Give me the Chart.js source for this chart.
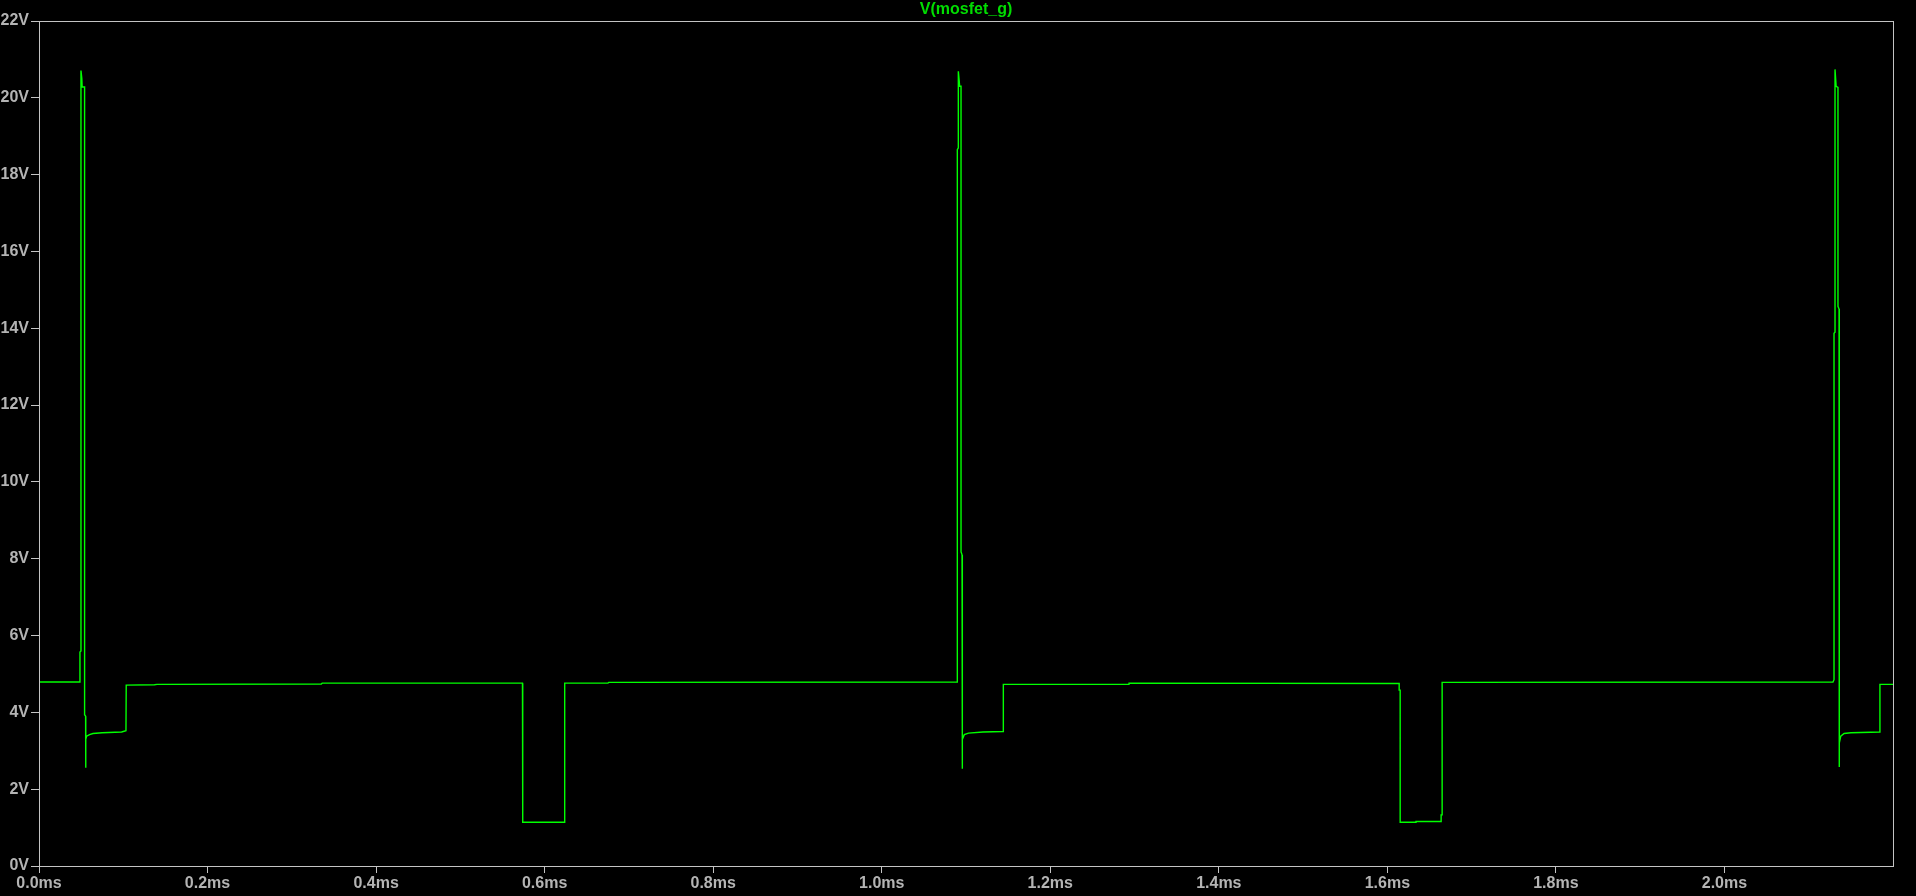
<!DOCTYPE html>
<html>
<head>
<meta charset="utf-8">
<script src="https://cdn.jsdelivr.net/npm/chart.js@4/dist/chart.umd.min.js"></script>
<style>
  html, body { margin: 0; padding: 0; background: #000; }
  #wrap { width: 1916px; height: 896px; }
</style>
</head>
<body>
<div id="wrap"><canvas id="chart"></canvas></div>
<script>
const traceName = 'V(mosfet_g)';

// time in ms, gate voltage in V
const timeMs = [
    0, 0.0486, 0.0486, 0.0498, 0.0498, 0.0508, 0.0512, 0.0541, 0.0541, 0.0553,
    0.0553, 0.0557, 0.0565, 0.060, 0.064, 0.075, 0.098, 0.1032, 0.1035, 0.137,
    0.14, 0.335, 0.336, 0.5737, 0.5740, 0.6235, 0.6238, 0.675, 0.676, 1.0897,
    1.0897, 1.0909, 1.0909, 1.0925, 1.0941, 1.0941, 1.0953, 1.0953, 1.096, 1.098,
    1.103, 1.12, 1.1440, 1.1443, 1.2934, 1.2935, 1.6140, 1.6140, 1.6152, 1.6152,
    1.634, 1.634, 1.6638, 1.6638, 1.665, 1.665, 2.1288, 2.130, 2.130, 2.1312,
    2.1312, 2.1325, 2.1347, 2.1347, 2.136, 2.136, 2.1365, 2.138, 2.142, 2.15,
    2.1845, 2.1845, 2.2
];
const gateV = [
    4.79, 4.79, 5.57, 5.60, 20.71, 20.50, 20.28, 20.28, 3.94, 3.90,
    2.56, 3.30, 3.38, 3.42, 3.45, 3.47, 3.49, 3.52, 4.71, 4.72,
    4.73, 4.74, 4.76, 4.76, 1.14, 1.14, 4.76, 4.76, 4.78, 4.79,
    18.65, 18.70, 20.69, 20.30, 20.30, 8.18, 8.10, 2.53, 3.30, 3.42,
    3.46, 3.49, 3.50, 4.73, 4.73, 4.76, 4.75, 4.58, 4.58, 1.14,
    1.14, 1.16, 1.16, 1.33, 1.33, 4.78, 4.79, 4.85, 13.87, 13.90,
    20.74, 20.30, 20.27, 14.57, 14.50, 2.58, 3.20, 3.38, 3.45, 3.47,
    3.49, 4.73, 4.73
];

const xTicks = [0, 0.2, 0.4, 0.6, 0.8, 1.0, 1.2, 1.4, 1.6, 1.8, 2.0];
const yTicks = [0, 2, 4, 6, 8, 10, 12, 14, 16, 18, 20, 22];

draw_chart();
function draw_chart() {
    const $chart = document.querySelector('#chart');
    const ctx = $chart.getContext('2d');

    const labelColor = '#b4b4b4';
    const frameColor = '#c4c4c4';
    const tickFont = { family: 'Liberation Sans, Arial, sans-serif', size: 16, weight: 'bold' };

    const points = timeMs.map((t, i) => ({ x: t, y: gateV[i] }));

    const framePlugin = {
        id: 'frame',
        afterDraw(chart) {
            const a = chart.chartArea;
            const c = chart.ctx;
            c.save();
            c.strokeStyle = frameColor;
            c.lineWidth = 1;
            c.strokeRect(Math.round(a.left) + 0.5, Math.round(a.top) + 0.5,
                Math.round(a.right - a.left), Math.round(a.bottom - a.top));
            c.fillStyle = '#00dd00';
            c.font = 'bold 16px Liberation Sans, Arial, sans-serif';
            c.textAlign = 'center';
            c.textBaseline = 'middle';
            c.fillText(traceName, (a.left + a.right) / 2, 10);
            c.restore();
        }
    };

    new Chart(ctx, {
        type: 'line',
        data: {
            datasets: [{
                label: traceName,
                data: points,
                borderColor: '#00ff00',
                borderWidth: 1.4,
                pointRadius: 0,
                tension: 0,
                fill: false
            }]
        },
        options: {
            responsive: true,
            maintainAspectRatio: false,
            animation: false,
            layout: {
                padding: { left: 0, right: 23, top: 21, bottom: 0 }
            },
            plugins: {
                legend: { display: false },
                tooltip: { enabled: false },
                title: { display: false }
            },
            scales: {
                x: {
                    type: 'linear',
                    min: 0,
                    max: 2.2,
                    afterBuildTicks: (scale) => {
                        scale.ticks = xTicks.map(v => ({ value: v }));
                    },
                    afterFit: (scale) => { scale.height = 30; },
                    grid: {
                        drawOnChartArea: false,
                        color: frameColor,
                        tickLength: 7
                    },
                    border: { display: false },
                    ticks: {
                        color: labelColor,
                        font: tickFont,
                        padding: 1,
                        maxRotation: 0,
                        autoSkip: false,
                        callback: (v) => v.toFixed(1) + 'ms'
                    }
                },
                y: {
                    type: 'linear',
                    min: 0,
                    max: 22,
                    afterBuildTicks: (scale) => {
                        scale.ticks = yTicks.map(v => ({ value: v }));
                    },
                    afterFit: (scale) => { scale.width = 39; },
                    grid: {
                        drawOnChartArea: false,
                        color: frameColor,
                        tickLength: 8
                    },
                    border: { display: false },
                    ticks: {
                        color: labelColor,
                        font: tickFont,
                        padding: 2,
                        autoSkip: false,
                        callback: (v) => v + 'V'
                    }
                }
            }
        },
        plugins: [framePlugin]
    });
}
</script>
</body>
</html>
